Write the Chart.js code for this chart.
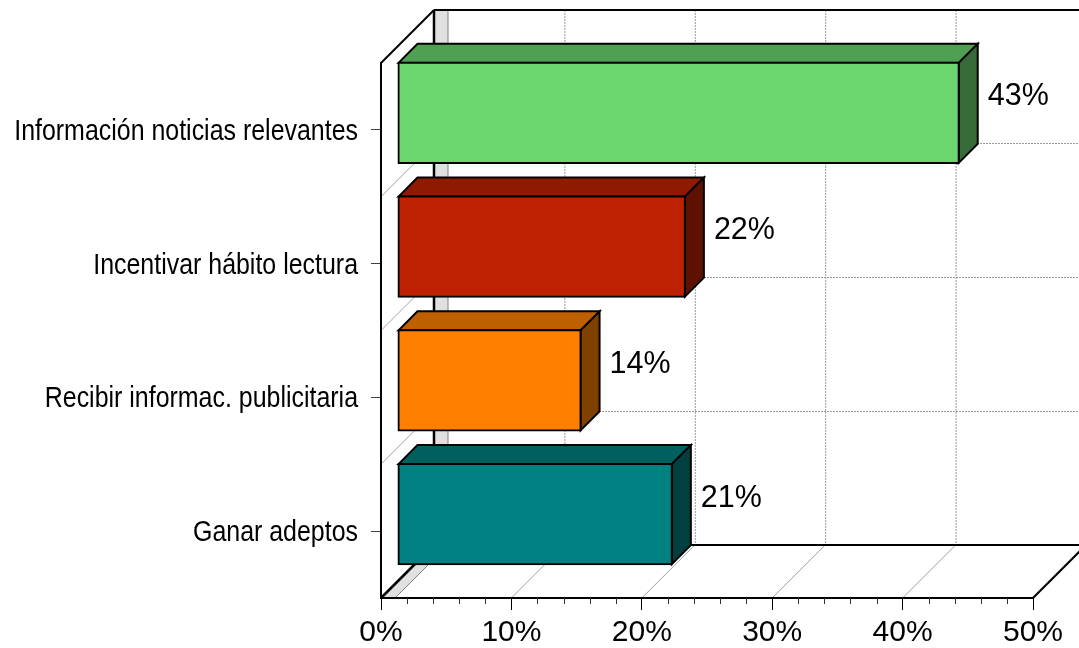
<!DOCTYPE html>
<html>
<head>
<meta charset="utf-8">
<style>
  html, body { margin: 0; padding: 0; background: #fff; }
  canvas { display: block; }
</style>
<script src="https://cdn.jsdelivr.net/npm/chart.js@4"></script>
</head>
<body>
<canvas id="chart" width="1079" height="648"></canvas>
<script>
const categories = ['Información noticias relevantes', 'Incentivar hábito lectura', 'Recibir informac. publicitaria', 'Ganar adeptos'];
const values = [43, 22, 14, 21];
const frontColors = ['#6BD56E', '#BF2200', '#FF8000', '#008080'];
const topColors = ['#50A053', '#8F1A00', '#BF6000', '#006060'];
const sideColors = ['#366B38', '#5F1100', '#804000', '#004040'];
const majorTicks = [10, 20, 30, 40, 50];
const minorTicks = [2, 4, 6, 8, 12, 14, 16, 18, 22, 24, 26, 28, 32, 34, 36, 38, 42, 44, 46, 48];

// the fake 3D box
const wallDepth = 53;
const barOffset = 17;
const barDepth = 19;
const stripWidth = 14;

const line = (ctx, x1, y1, x2, y2) => {
  ctx.beginPath();
  ctx.moveTo(x1, y1);
  ctx.lineTo(x2, y2);
  ctx.stroke();
};

const poly = (ctx, pts, fill, stroke, width) => {
  ctx.beginPath();
  pts.forEach((p, i) => i ? ctx.lineTo(p[0], p[1]) : ctx.moveTo(p[0], p[1]));
  ctx.closePath();
  ctx.fillStyle = fill;
  ctx.fill();
  if (stroke) {
    ctx.strokeStyle = stroke;
    ctx.lineWidth = width;
    ctx.stroke();
  }
};

const box3d = {
  id: 'box3d',
  afterLayout(chart) {
    // category labels are squeezed sideways in the original
    const y = chart.scales.y;
    if (!y.squeezed) {
      const drawLabels = y.drawLabels;
      y._computeLabelArea = () => undefined; // the scale's clip box would cut the squeezed text
      y.drawLabels = function (area) {
        const ctx = chart.ctx;
        ctx.save();
        ctx.translate(358, 2);
        ctx.scale(0.86, 1);
        ctx.translate(-358, 0);
        drawLabels.call(this, area);
        ctx.restore();
      };
      y.squeezed = true;
    }
  },
  beforeDraw(chart) {
    const { ctx, chartArea: a, scales: { x, y } } = chart;
    const d = wallDepth;
    ctx.save();

    // gray strip on back wall and floor
    poly(ctx, [[a.left + d, a.top - d], [a.left + d + stripWidth, a.top - d], [a.left + d + stripWidth, a.bottom - d], [a.left + d, a.bottom - d]], '#E0E0E0', '#808080', 1);
    poly(ctx, [[a.left, a.bottom], [a.left + stripWidth, a.bottom], [a.left + d + stripWidth, a.bottom - d], [a.left + d, a.bottom - d]], '#E0E0E0', '#808080', 1);

    // back wall grid
    ctx.strokeStyle = '#999999';
    ctx.lineWidth = 1;
    ctx.setLineDash([2, 1]);
    majorTicks.forEach(v => line(ctx, x.getPixelForValue(v) + d + 0.5, a.top - d, x.getPixelForValue(v) + d + 0.5, a.bottom - d));
    categories.slice(1).forEach((c, i) => {
      const py = Math.floor(y.getPixelForValue(i + 0.5)) - d + 0.5;
      line(ctx, a.left + d, py, a.right + d, py);
    });
    ctx.setLineDash([]);

    // floor and left wall grid
    ctx.strokeStyle = '#A0A0A0';
    majorTicks.slice(0, -1).forEach(v => line(ctx, x.getPixelForValue(v), a.bottom, x.getPixelForValue(v) + d, a.bottom - d));
    categories.slice(1).forEach((c, i) => {
      const py = y.getPixelForValue(i + 0.5);
      line(ctx, a.left, py, a.left + d, py - d);
    });

    // box edges
    ctx.strokeStyle = '#000';
    ctx.lineWidth = 2;
    line(ctx, a.left, a.top, a.left + d, a.top - d);
    line(ctx, a.left + d, a.top - d, a.right + d, a.top - d);
    line(ctx, a.left + d, a.bottom - d, a.right + d, a.bottom - d);
    line(ctx, a.right, a.bottom, a.right + d, a.bottom - d);
    ctx.lineWidth = 2.5;
    line(ctx, a.left + d, a.top - d, a.left + d, a.bottom - d);
    line(ctx, a.left, a.bottom, a.left + d, a.bottom - d);
    ctx.restore();
  },
  beforeDatasetsDraw(chart) {
    const ctx = chart.ctx;
    ctx.save();
    ctx.translate(barOffset, -barOffset);
    chart.getDatasetMeta(0).data.forEach((bar, i) => {
      const top = bar.y - bar.height / 2;
      const bottom = bar.y + bar.height / 2;
      const b = barDepth;
      poly(ctx, [[bar.base, top], [bar.base + b, top - b], [bar.x + b, top - b], [bar.x, top]], topColors[i], '#000', 2);
      poly(ctx, [[bar.x, top], [bar.x + b, top - b], [bar.x + b, bottom - b], [bar.x, bottom]], sideColors[i], '#000', 2);
    });
  },
  afterDatasetsDraw(chart) {
    const { ctx, chartArea: a, scales: { x } } = chart;
    ctx.restore();

    // value labels
    ctx.save();
    ctx.font = '30.5px "Liberation Sans"';
    ctx.fillStyle = '#000';
    ctx.textAlign = 'left';
    ctx.textBaseline = 'middle';
    chart.getDatasetMeta(0).data.forEach((bar, i) => {
      ctx.fillText(values[i] + '%', bar.x + barOffset + barDepth + 10, bar.y - barOffset - 16);
    });

    // minor ticks
    ctx.strokeStyle = '#303030';
    ctx.lineWidth = 1;
    minorTicks.forEach(v => {
      const px = Math.round(x.getPixelForValue(v)) + 0.5;
      line(ctx, px, a.bottom, px, a.bottom + 6);
    });
    ctx.restore();
  }
};

new Chart(document.getElementById('chart').getContext('2d'), {
  type: 'bar',
  data: {
    labels: categories,
    datasets: [{
      data: values,
      backgroundColor: frontColors,
      borderColor: '#000',
      borderWidth: 2,
      borderSkipped: false,
      inflateAmount: 1,
      categoryPercentage: 0.748,
      barPercentage: 1,
      clip: false
    }]
  },
  options: {
    indexAxis: 'y',
    responsive: false,
    animation: false,
    devicePixelRatio: 1,
    layout: { padding: { top: 63, right: 46, left: 0, bottom: 0 } },
    plugins: { legend: { display: false }, tooltip: { enabled: false } },
    scales: {
      x: {
        min: 0,
        max: 50,
        afterFit: s => { s.height = 50; },
        grid: { drawOnChartArea: false, tickLength: 12, color: '#000' },
        border: { color: '#000', width: 2 },
        ticks: {
          stepSize: 10,
          padding: 5,
          color: '#000',
          maxRotation: 0,
          font: { family: '"Liberation Sans"', size: 30 },
          callback: v => v + '%'
        }
      },
      y: {
        afterFit: s => { s.width = 381; },
        grid: { offset: false, drawOnChartArea: false, tickLength: 10, color: '#404040' },
        border: { color: '#000', width: 2 },
        ticks: {
          padding: 13,
          color: '#000',
          font: { family: '"Liberation Sans"', size: 29 }
        }
      }
    }
  },
  plugins: [box3d]
});
</script>
</body>
</html>
